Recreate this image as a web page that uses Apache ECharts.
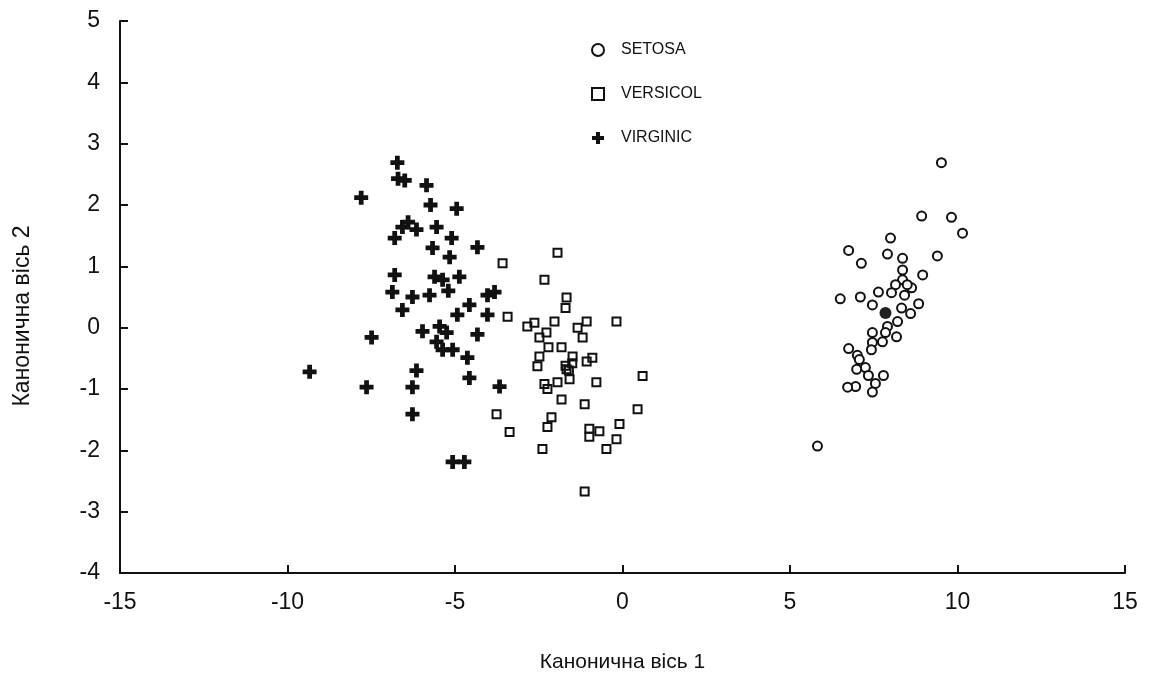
<!DOCTYPE html>
<html><head><meta charset="utf-8">
<script src="https://cdn.jsdelivr.net/npm/echarts@6/dist/echarts.min.js"></script>
<style>html,body{margin:0;padding:0;background:#fff}#c{width:1149px;height:678px}</style>
</head><body><div id="c"></div>
<script>
const seriesNames = ['SETOSA', 'VERSICOL', 'VIRGINIC'];
const xTicks = [-15, -10, -5, 0, 5, 10, 15];
const yTicks = [-4, -3, -2, -1, 0, 1, 2, 3, 4, 5];
const setosa = [
 [9.52,2.69],[8.93,1.82],[9.82,1.8],[10.15,1.54],[8.0,1.46],[6.75,1.26],[7.91,1.2],[7.13,1.05],
 [9.4,1.17],[8.36,1.13],[8.36,0.94],[8.96,0.86],[8.36,0.78],[8.15,0.7],[8.63,0.65],[8.03,0.57],
 [7.64,0.58],[8.42,0.53],[6.5,0.47],[7.1,0.5],[7.46,0.37],[8.84,0.39],[8.33,0.32],[8.6,0.23],
 [8.21,0.1],[7.91,0.02],[7.85,-0.08],[8.18,-0.15],[7.46,-0.08],[7.76,-0.23],[7.46,-0.24],
 [7.43,-0.36],[6.75,-0.34],[7.01,-0.45],[7.07,-0.52],[7.25,-0.65],[6.99,-0.68],[7.34,-0.78],
 [7.79,-0.78],[6.96,-0.96],[6.72,-0.97],[7.55,-0.91],[7.46,-1.05],[5.82,-1.93],[8.5,0.7]
];
const setosaCentroid = [[7.85,0.24]];
const versicol = [
 [-1.94,1.22],[-3.58,1.05],[-2.33,0.78],[-1.67,0.49],[-1.7,0.32],[-3.43,0.18],[-2.84,0.02],
 [-2.63,0.08],[-2.03,0.1],[-2.27,-0.08],[-1.07,0.1],[-1.34,0.0],[-1.19,-0.16],[-0.18,0.1],
 [-2.48,-0.16],[-2.21,-0.32],[-1.82,-0.32],[-2.48,-0.47],[-1.49,-0.47],[-1.07,-0.55],[-0.9,-0.49],
 [-2.54,-0.63],[-1.67,-0.68],[-1.58,-0.84],[-2.33,-0.92],[-2.24,-1.0],[-1.94,-0.89],[-0.78,-0.89],
 [0.6,-0.79],[-1.82,-1.17],[-1.13,-1.25],[0.45,-1.33],[-3.76,-1.41],[-3.37,-1.7],[-2.12,-1.46],
 [-2.24,-1.62],[-0.99,-1.65],[-0.69,-1.69],[-0.99,-1.78],[-0.09,-1.57],[-0.18,-1.82],[-0.48,-1.98],
 [-2.39,-1.98],[-1.13,-2.67],[-1.6,-0.7],[-1.5,-0.58],[-1.7,-0.62]
];
const virginic = [
 [-6.72,2.69],[-6.7,2.43],[-6.5,2.4],[-7.8,2.12],[-5.85,2.32],[-5.73,2.0],[-4.95,1.94],
 [-6.57,1.64],[-6.8,1.46],[-6.15,1.6],[-5.55,1.64],[-5.1,1.46],[-5.67,1.3],[-5.16,1.15],
 [-4.33,1.31],[-6.8,0.86],[-6.87,0.58],[-6.27,0.5],[-6.57,0.29],[-5.76,0.53],[-5.61,0.83],
 [-5.37,0.78],[-4.87,0.83],[-4.03,0.53],[-3.82,0.58],[-4.57,0.37],[-4.03,0.21],[-4.93,0.21],
 [-5.97,-0.06],[-5.46,0.02],[-5.25,-0.08],[-5.55,-0.23],[-5.07,-0.36],[-5.37,-0.36],[-4.33,-0.11],
 [-4.63,-0.49],[-7.49,-0.16],[-9.34,-0.72],[-7.64,-0.97],[-6.15,-0.7],[-6.27,-0.97],[-6.27,-1.41],
 [-4.57,-0.82],[-3.67,-0.96],[-5.07,-2.19],[-4.72,-2.19],[-6.4,1.72],[-5.2,0.6]
];

const plusPath = 'path://M3.3,0H6.7V3.3H10V6.7H6.7V10H3.3V6.7H0V3.3H3.3Z';
const font = '"Liberation Sans", Arial, sans-serif';
const chart = echarts.init(document.getElementById('c'), null, {renderer: 'canvas'});
chart.setOption({
  backgroundColor: '#ffffff',
  animation: false,
  grid: {left: 120, right: 24, top: 21, bottom: 101, containLabel: false},
  legend: {
    orient: 'vertical', left: 586, top: 37, itemGap: 28, itemWidth: 12, itemHeight: 12,
    textStyle: {fontFamily: font, fontSize: 16, color: '#111', padding: [0, 0, 0, 12]},
    data: [
      {name: seriesNames[0], icon: 'circle', itemStyle: {color: '#fff', borderColor: '#111', borderWidth: 2}},
      {name: seriesNames[1], icon: 'rect', itemStyle: {color: '#fff', borderColor: '#111', borderWidth: 2}},
      {name: seriesNames[2], icon: plusPath, itemStyle: {color: '#111', borderWidth: 0}}
    ]
  },
  xAxis: {
    type: 'value', min: xTicks[0], max: xTicks[xTicks.length-1], interval: 5,
    name: 'Канонична вісь 1', nameLocation: 'middle', nameGap: 79,
    nameTextStyle: {fontFamily: font, fontSize: 21, color: '#111'},
    axisLine: {show: true, onZero: false, lineStyle: {color: '#111', width: 2}},
    axisTick: {show: true, inside: true, length: 8, lineStyle: {color: '#111', width: 2}},
    axisLabel: {fontFamily: font, fontSize: 23, color: '#111', margin: 18},
    splitLine: {show: false}
  },
  yAxis: {
    type: 'value', min: yTicks[0], max: yTicks[yTicks.length-1], interval: 1,
    name: 'Канонична вісь 2', nameLocation: 'middle', nameGap: 86, nameRotate: 90,
    nameTextStyle: {fontFamily: font, fontSize: 23, color: '#111', padding: [0, 38, 0, 0]},
    axisLine: {show: true, onZero: false, lineStyle: {color: '#111', width: 2}},
    axisTick: {show: true, inside: true, length: 8, lineStyle: {color: '#111', width: 2}},
    axisLabel: {fontFamily: font, fontSize: 23, color: '#111', margin: 20},
    splitLine: {show: false}
  },
  series: [
    {name: seriesNames[0], type: 'scatter', data: setosa, symbol: 'circle', symbolSize: 9,
     itemStyle: {color: '#fff', borderColor: '#111', borderWidth: 2, opacity: 1}},
    {name: seriesNames[1], type: 'scatter', data: versicol, symbol: 'rect', symbolSize: 8,
     itemStyle: {color: 'rgba(255,255,255,0)', borderColor: '#111', borderWidth: 2, opacity: 1}},
    {name: seriesNames[2], type: 'scatter', data: virginic, symbol: plusPath, symbolSize: 14,
     itemStyle: {color: '#111', opacity: 1}},
    {name: 'centroid', type: 'scatter', data: setosaCentroid, symbol: 'circle', symbolSize: 12,
     itemStyle: {color: '#222', opacity: 1}}
  ]
});
</script></body></html>
